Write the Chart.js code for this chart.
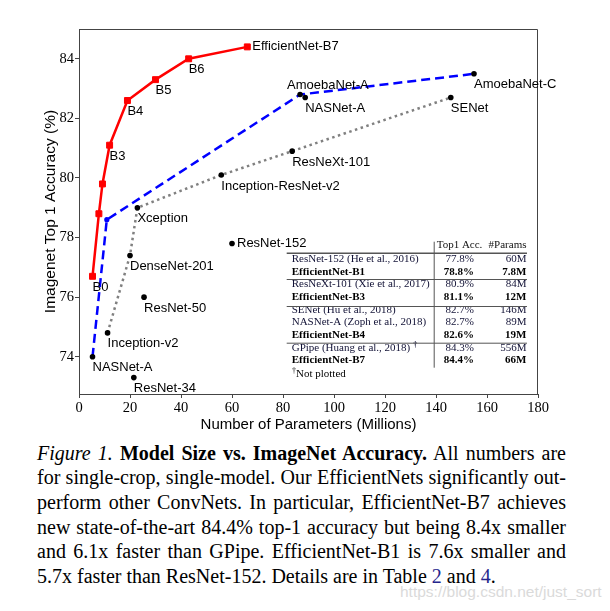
<!DOCTYPE html>
<html><head><meta charset="utf-8">
<script src="https://cdn.jsdelivr.net/npm/chart.js@4"></script>
<style>
html,body{margin:0;padding:0;background:#fff;}
#wrap{position:relative;width:610px;height:611px;overflow:hidden;background:#fff;}
#cbox{position:absolute;left:0;top:0;width:610px;height:440px;}
#cap{position:absolute;left:37px;top:440.6px;width:529px;font-family:"Liberation Serif","Times New Roman",serif;font-size:20px;line-height:24.7px;color:#000;}
#cap div{text-align:justify;text-align-last:justify;}
#cap div.last{text-align:left;text-align-last:left;}
#cap .ref{color:#25258c;}
#wm{position:absolute;left:400px;top:583px;font-family:"Liberation Sans",Arial,sans-serif;font-size:15.5px;color:#dadada;white-space:nowrap;}
</style>
</head><body>
<div id="wrap">
  <div id="cbox"><canvas id="c"></canvas></div>
  <div id="cap">
    <div><i>Figure 1.</i> <b>Model Size vs. ImageNet Accuracy.</b> All numbers are</div>
    <div>for single-crop, single-model. Our EfficientNets significantly out-</div>
    <div>perform other ConvNets. In particular, EfficientNet-B7 achieves</div>
    <div>new state-of-the-art 84.4% top-1 accuracy but being 8.4x smaller</div>
    <div>and 6.1x faster than GPipe. EfficientNet-B1 is 7.6x smaller and</div>
    <div class="last">5.7x faster than ResNet-152. Details are in Table <span class="ref">2</span> and <span class="ref">4</span>.</div>
  </div>
  <div id="wm">https://blog.csdn.net/just_sort</div>
</div>
<script>
// ---- data ----
const effLabels = ['B0', '', '', 'B3', 'B4', 'B5', 'B6', 'EfficientNet-B7'];
const effParams = [5.3, 7.8, 9.2, 12, 19, 30, 43, 66];
const effAcc = [76.7, 78.8, 79.8, 81.1, 82.6, 83.3, 84.0, 84.4];

const nasParams = [5.3, 10.9, 86.7, 155.3];
const nasAcc = [74.0, 78.6, 82.8, 83.5];

const dotParams = [11.2, 20.0, 22.9, 55.8, 83.6, 145.8];
const dotAcc = [74.8, 77.4, 79.0, 80.1, 80.9, 82.7];

const baseNames = ['NASNet-A', 'ResNet-34', 'Inception-v2', 'ResNet-50', 'DenseNet-201', 'Xception', 'ResNet-152', 'Inception-ResNet-v2', 'ResNeXt-101', 'NASNet-A', 'AmoebaNet-A', 'SENet', 'AmoebaNet-C'];
const baseParams = [5.3, 21.5, 11.2, 25.5, 20.0, 22.9, 60.0, 55.8, 83.6, 88.7, 86.7, 145.8, 154.9];
const baseAcc = [74.0, 73.3, 74.8, 76.0, 77.4, 79.0, 77.8, 80.1, 80.9, 82.7, 82.8, 82.7, 83.5];

const xTicks = [0, 20, 40, 60, 80, 100, 120, 140, 160, 180];
const yTicks = [74, 76, 78, 80, 82, 84];

const tableHeader = ['Top1 Acc.', '#Params'];
const tableModels = ['ResNet-152 (He et al., 2016)', 'EfficientNet-B1', 'ResNeXt-101 (Xie et al., 2017)', 'EfficientNet-B3', 'SENet (Hu et al., 2018)', 'NASNet-A (Zoph et al., 2018)', 'EfficientNet-B4', 'GPipe (Huang et al., 2018)', 'EfficientNet-B7'];
const tableAcc = ['77.8%', '78.8%', '80.9%', '81.1%', '82.7%', '82.7%', '82.6%', '84.3%', '84.4%'];
const tableParams = ['60M', '7.8M', '84M', '12M', '146M', '89M', '19M', '556M', '66M'];
const tableBold = [false, true, false, true, false, false, true, false, true];
const tableFootnote = 'Not plotted';

// ---- label placement styles ----
const rightLabels = ['ResNet-152', 'EfficientNet-B7'];
const aboveLabels = ['AmoebaNet-A'];

const SANS = '"Liberation Sans", Arial, sans-serif';
const SERIF = '"Liberation Serif", "Times New Roman", serif';

function drawLabel(ctx, text, px, py) {
  if (!text) return;
  ctx.save();
  ctx.font = '13px ' + SANS;
  ctx.fillStyle = '#000';
  ctx.textBaseline = 'middle';
  ctx.textAlign = 'left';
  if (rightLabels.includes(text)) {
    ctx.fillText(text, px + 5, py);
  } else if (aboveLabels.includes(text)) {
    ctx.fillText(text, px - 13, py - 9);
  } else {
    ctx.fillText(text, px, py + 11);
  }
  ctx.restore();
}

const overlay = {
  id: 'overlay',
  afterDatasetsDraw(chart) {
    const ctx = chart.ctx, a = chart.chartArea;
    const xs = chart.scales.x, ys = chart.scales.y;
    // frame top/right
    ctx.save();
    ctx.strokeStyle = '#444';
    ctx.lineWidth = 1;
    ctx.beginPath();
    ctx.moveTo(a.left, a.top + 0.5);
    ctx.lineTo(a.right - 0.5, a.top + 0.5);
    ctx.lineTo(a.right - 0.5, a.bottom);
    ctx.stroke();
    ctx.restore();
    // point labels
    effLabels.forEach((t, i) => drawLabel(ctx, t, xs.getPixelForValue(effParams[i]), ys.getPixelForValue(effAcc[i])));
    baseNames.forEach((t, i) => drawLabel(ctx, t, xs.getPixelForValue(baseParams[i]), ys.getPixelForValue(baseAcc[i])));
    // table
    const L = a.left, T = a.top;
    ctx.save();
    ctx.textBaseline = 'middle';
    const fs = 11;
    const rowX = L + 212.7, accR = L + 395, parR = L + 447.5, vX = L + 354.7;
    ctx.fillStyle = '#111';
    ctx.font = fs + 'px ' + SERIF;
    ctx.textAlign = 'left';
    ctx.fillText(tableHeader[0], L + 357.7, T + 216);
    ctx.textAlign = 'right';
    ctx.fillText(tableHeader[1], parR, T + 216);
    tableModels.forEach((m, i) => {
      const y = T + 230 + i * 12.66;
      ctx.font = (tableBold[i] ? 'bold ' : '') + fs + 'px ' + SERIF;
      ctx.fillStyle = tableBold[i] ? '#000' : '#121236';
      ctx.textAlign = 'left';
      ctx.fillText(m, rowX, y);
      if (m.startsWith('GPipe')) {
        const w = ctx.measureText(m).width;
        ctx.font = 'bold 8px ' + SERIF;
        ctx.fillText('\u2020', rowX + w + 3, y - 3);
        ctx.font = (tableBold[i] ? 'bold ' : '') + fs + 'px ' + SERIF;
      }
      ctx.textAlign = 'right';
      ctx.fillText(tableAcc[i], accR, y);
      ctx.fillText(tableParams[i], parR, y);
    });
    ctx.fillStyle = '#000';
    ctx.textAlign = 'left';
    ctx.font = '8px ' + SERIF;
    ctx.fillText('\u2020', L + 213, T + 342);
    ctx.font = fs + 'px ' + SERIF;
    ctx.fillText(tableFootnote, L + 217, T + 345.3);
    // lines
    ctx.strokeStyle = '#555';
    ctx.lineWidth = 1.5;
    ctx.beginPath();
    ctx.moveTo(L + 207.7, T + 224.3); ctx.lineTo(L + 448, T + 224.3);
    ctx.stroke();
    ctx.lineWidth = 1;
    ctx.beginPath();
    [250, 277, 313.7].forEach(dy => { ctx.moveTo(L + 207.7, T + dy + 0.5); ctx.lineTo(L + 448, T + dy + 0.5); });
    ctx.moveTo(vX + 0.5, T + 212.7); ctx.lineTo(vX + 0.5, T + 338.7);
    ctx.stroke();
    ctx.restore();
  }
};

new Chart(document.getElementById('c'), {
  type: 'scatter',
  data: {
    datasets: [
      {
        data: baseParams.map((x, i) => ({x, y: baseAcc[i]})),
        showLine: false, pointRadius: 2.8, pointBackgroundColor: '#000', pointBorderWidth: 0, order: 1
      },
      {
        data: effParams.map((x, i) => ({x, y: effAcc[i]})),
        showLine: true, borderColor: '#ff0000', backgroundColor: '#ff0000', borderWidth: 2.5,
        pointStyle: 'rect', pointRadius: 4.2, pointBorderWidth: 1, pointBackgroundColor: '#ff0000', pointBorderColor: '#ff0000', order: 2
      },
      {
        data: nasParams.map((x, i) => ({x, y: nasAcc[i]})),
        showLine: true, borderColor: '#0000ff', borderWidth: 2.5, borderDash: [9, 5],
        pointRadius: [0, 2.6, 0, 0], pointBackgroundColor: '#0000ff', pointBorderWidth: 0, order: 3
      },
      {
        data: dotParams.map((x, i) => ({x, y: dotAcc[i]})),
        showLine: true, borderColor: '#808080', borderWidth: 2.5, borderDash: [2.5, 3.5],
        pointRadius: 0, order: 4
      }
    ]
  },
  options: {
    responsive: true, maintainAspectRatio: false, animation: false,
    layout: {padding: {left: 10, top: 29, right: 72, bottom: 4}},
    plugins: {legend: {display: false}, tooltip: {enabled: false}},
    scales: {
      x: {
        type: 'linear', min: 0, max: 180,
        afterBuildTicks: s => { s.ticks = xTicks.map(v => ({value: v})); },
        afterFit: s => { s.height = 42; },
        grid: {drawOnChartArea: false, drawTicks: true, tickLength: 4, tickColor: '#444'},
        border: {display: true, color: '#444', width: 1},
        ticks: {font: {family: SERIF, size: 14.5}, color: '#000', padding: 1, maxRotation: 0, autoSkip: false},
        title: {display: true, text: 'Number of Parameters (Millions)', font: {family: SANS, size: 15}, color: '#000', padding: {top: 0, bottom: 2}}
      },
      y: {
        type: 'linear', min: 72.75, max: 85.0,
        afterBuildTicks: s => { s.ticks = yTicks.map(v => ({value: v})); },
        afterFit: s => { s.width = 69; },
        grid: {drawOnChartArea: false, drawTicks: true, tickLength: 4, tickColor: '#444'},
        border: {display: true, color: '#444', width: 1},
        ticks: {font: {family: SERIF, size: 14.5}, color: '#000', padding: 1, autoSkip: false},
        title: {display: true, text: 'Imagenet Top 1 Accuracy (%)', font: {family: SANS, size: 15.5}, color: '#000', padding: {top: 31, bottom: 0}}
      }
    }
  },
  plugins: [overlay]
});
</script>
</body></html>
